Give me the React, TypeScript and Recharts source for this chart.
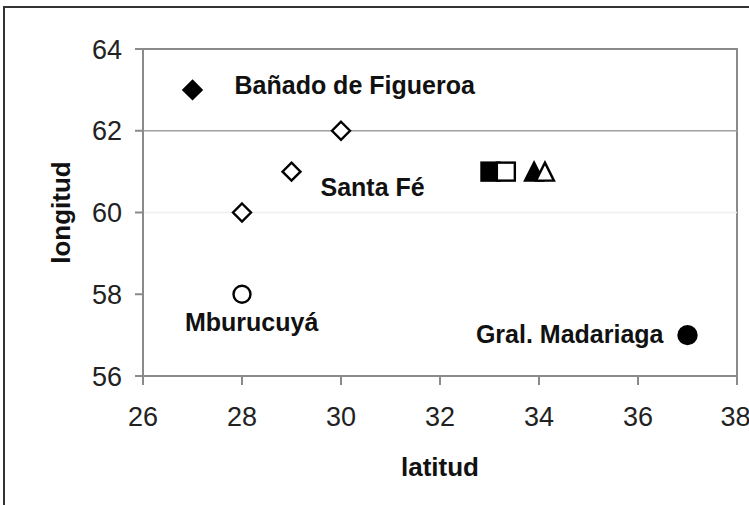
import React from 'react';
import {
  ScatterChart,
  Scatter,
  XAxis,
  YAxis,
  ReferenceLine,
  ReferenceArea,
  Label,
} from 'recharts';

// latitud (x) / longitud (y) per site
const banadoX = [27];
const banadoY = [63];
const santaFeX = [28, 29, 30];
const santaFeY = [60, 61, 62];
const mburucuyaX = [28];
const mburucuyaY = [58];
const madariagaX = [37];
const madariagaY = [57];
const squareFilledX = [33.02];
const squareFilledY = [61];
const squareOpenX = [33.33];
const squareOpenY = [61];
const triFilledX = [33.9];
const triFilledY = [61];
const triOpenX = [34.12];
const triOpenY = [61];

// text labels, anchored on the point they describe
const labelNames = ['Bañado de Figueroa', 'Santa Fé', 'Mburucuyá', 'Gral. Madariaga'];
const labelX = [27, 29, 28, 37];
const labelY = [63, 61, 58, 57];

const xTicks = [26, 28, 30, 32, 34, 36, 38];
const yTicks = [56, 58, 60, 62, 64];

// pixel offsets of the labels from their anchor point (style only)
const labelStyle = [
  { dx: 42, dy: 4, anchor: 'start' },
  { dx: 29, dy: 24, anchor: 'start' },
  { dx: -57, dy: 37, anchor: 'start' },
  { dx: -24, dy: 8, anchor: 'end' },
];

const toPoints = (xs: number[], ys: number[]) =>
  xs.map((x, i) => ({ x, y: ys[i] }));

const labelPoints = labelNames.map((name, i) => ({
  x: labelX[i],
  y: labelY[i],
  name,
  idx: i,
}));

const AXIS = '#8a8a8a';
const FONT = '"Liberation Sans", Arial, sans-serif';

const diamond = (fill: string) => (props: any) => {
  const { cx, cy } = props;
  const r = 9;
  return (
    <polygon
      points={`${cx},${cy - r} ${cx + r},${cy} ${cx},${cy + r} ${cx - r},${cy}`}
      fill={fill}
      stroke="#000"
      strokeWidth={2.4}
    />
  );
};

const circle = (fill: string, r: number) => (props: any) => {
  const { cx, cy } = props;
  return <circle cx={cx} cy={cy} r={r} fill={fill} stroke="#000" strokeWidth={2.4} />;
};

const square = (fill: string) => (props: any) => {
  const { cx, cy } = props;
  const h = 9;
  return (
    <rect
      x={cx - h}
      y={cy - h}
      width={h * 2}
      height={h * 2}
      fill={fill}
      stroke="#000"
      strokeWidth={2.4}
    />
  );
};

const triangle = (fill: string) => (props: any) => {
  const { cx, cy } = props;
  const h = 9;
  return (
    <polygon
      points={`${cx},${cy - h} ${cx + h},${cy + h} ${cx - h},${cy + h}`}
      fill={fill}
      stroke="#000"
      strokeWidth={2.4}
      strokeLinejoin="miter"
    />
  );
};

const labelShape = (props: any) => {
  const { cx, cy, payload } = props;
  const s = labelStyle[payload.idx];
  return (
    <text
      x={cx + s.dx}
      y={cy + s.dy}
      textAnchor={s.anchor}
      fontFamily={FONT}
      fontWeight="bold"
      fontSize={25}
      fill="#111"
    >
      {payload.name}
    </text>
  );
};

const YTitle = (props: any) => {
  const { viewBox } = props;
  const x = 61;
  const y = viewBox.y + viewBox.height / 2;
  return (
    <text
      x={x}
      y={y}
      transform={`rotate(-90 ${x} ${y})`}
      textAnchor="middle"
      dominantBaseline="central"
      fontFamily={FONT}
      fontWeight="bold"
      fontSize={26}
      fill="#111"
    >
      longitud
    </text>
  );
};

export default function App() {
  const tickStyle = { fill: '#222', fontSize: 27, fontFamily: FONT };
  return (
    <div
      style={{
        position: 'absolute',
        left: 0,
        top: 0,
        width: 749,
        height: 505,
        overflow: 'hidden',
        background: '#fff',
      }}
    >
      <div
        style={{
          position: 'absolute',
          left: 3,
          top: 6,
          width: 900,
          height: 700,
          border: '2px solid #333',
        }}
      />
      <ScatterChart
        width={749}
        height={505}
        margin={{ top: 49, right: 12, left: 0, bottom: 0 }}
        style={{ position: 'absolute', left: 0, top: 0 }}
      >
        <XAxis
          type="number"
          dataKey="x"
          domain={[26, 38]}
          ticks={xTicks}
          allowDataOverflow
          height={129}
          stroke={AXIS}
          strokeWidth={2}
          tickSize={9}
          tickMargin={22}
          tick={tickStyle}
        >
          <Label
            value="latitud"
            position="insideBottom"
            offset={29}
            style={{ fontFamily: FONT, fontWeight: 'bold', fontSize: 26, fill: '#111' }}
          />
        </XAxis>
        <YAxis
          type="number"
          dataKey="y"
          domain={[56, 64]}
          ticks={yTicks}
          allowDataOverflow
          width={143}
          stroke={AXIS}
          strokeWidth={2}
          tickSize={8}
          tickMargin={13}
          tick={tickStyle}
        >
          <Label content={<YTitle />} />
        </YAxis>
        <ReferenceLine y={60} stroke="#eeeeee" strokeWidth={1.5} />
        <ReferenceLine y={62} stroke="#a0a0a0" strokeWidth={1.5} />
        <ReferenceArea
          x1={26}
          x2={38}
          y1={56}
          y2={64}
          fill="none"
          stroke={AXIS}
          strokeWidth={2}
        />
        <Scatter data={toPoints(banadoX, banadoY)} shape={diamond('#000')} isAnimationActive={false} />
        <Scatter data={toPoints(santaFeX, santaFeY)} shape={diamond('#fff')} isAnimationActive={false} />
        <Scatter data={toPoints(mburucuyaX, mburucuyaY)} shape={circle('#fff', 8.5)} isAnimationActive={false} />
        <Scatter data={toPoints(madariagaX, madariagaY)} shape={circle('#000', 9)} isAnimationActive={false} />
        <Scatter data={toPoints(squareFilledX, squareFilledY)} shape={square('#000')} isAnimationActive={false} />
        <Scatter data={toPoints(squareOpenX, squareOpenY)} shape={square('#fff')} isAnimationActive={false} />
        <Scatter data={toPoints(triFilledX, triFilledY)} shape={triangle('#000')} isAnimationActive={false} />
        <Scatter data={toPoints(triOpenX, triOpenY)} shape={triangle('#fff')} isAnimationActive={false} />
        <Scatter data={labelPoints} shape={labelShape} isAnimationActive={false} />
      </ScatterChart>
    </div>
  );
}
